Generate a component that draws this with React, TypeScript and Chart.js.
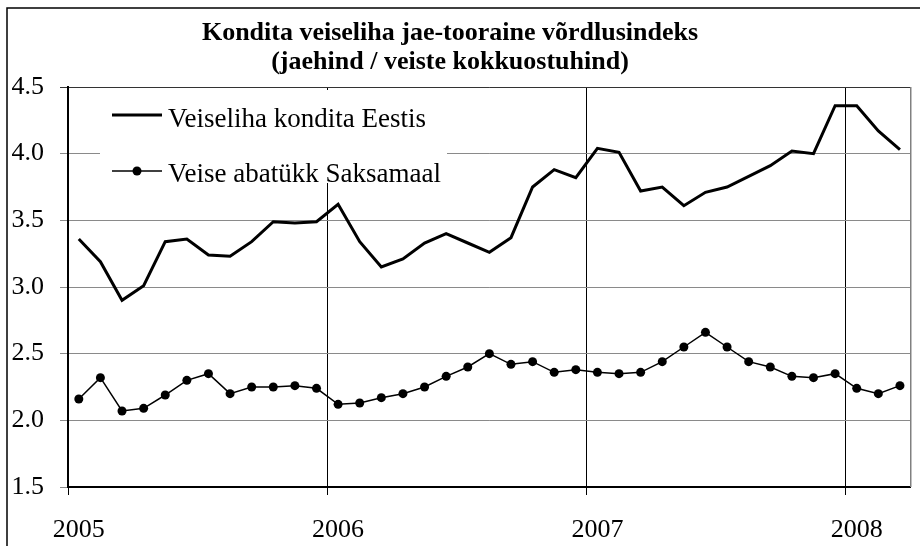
import React, { useEffect, useRef } from "react";
import { Chart, registerables } from "chart.js";

Chart.register(...registerables);

const titleLines = ["Kondita veiseliha jae-tooraine võrdlusindeks", "(jaehind / veiste kokkuostuhind)"];

const years = ["2005", "2006", "2007", "2008"];
const monthsPerYear = 12;
// Monthly categories Jan 2005 .. Mar 2008
const categories = [
  "2005-01", "2005-02", "2005-03", "2005-04", "2005-05", "2005-06", "2005-07", "2005-08", "2005-09", "2005-10", "2005-11", "2005-12",
  "2006-01", "2006-02", "2006-03", "2006-04", "2006-05", "2006-06", "2006-07", "2006-08", "2006-09", "2006-10", "2006-11", "2006-12",
  "2007-01", "2007-02", "2007-03", "2007-04", "2007-05", "2007-06", "2007-07", "2007-08", "2007-09", "2007-10", "2007-11", "2007-12",
  "2008-01", "2008-02", "2008-03",
];

const seriesEestis = [
  3.36, 3.19, 2.90, 3.01, 3.34, 3.36, 3.24, 3.23, 3.34, 3.49, 3.48, 3.49,
  3.62, 3.34, 3.15, 3.21, 3.33, 3.40, 3.33, 3.26, 3.37, 3.75, 3.88, 3.82,
  4.04, 4.01, 3.72, 3.75, 3.61, 3.71, 3.75, 3.83, 3.91, 4.02, 4.00, 4.36,
  4.36, 4.17, 4.03,
];

const seriesSaksamaal = [
  2.16, 2.32, 2.07, 2.09, 2.19, 2.30, 2.35, 2.20, 2.25, 2.25, 2.26, 2.24,
  2.12, 2.13, 2.17, 2.20, 2.25, 2.33, 2.40, 2.50, 2.42, 2.44, 2.36, 2.38,
  2.36, 2.35, 2.36, 2.44, 2.55, 2.66, 2.55, 2.44, 2.40, 2.33, 2.32, 2.35,
  2.24, 2.20, 2.26,
];

const seriesLabels = ["Veiseliha kondita Eestis", "Veise abatükk Saksamaal"];

const yMin = 1.5;
const yMax = 4.5;
const yStep = 0.5;

const SERIF = "'Liberation Serif', 'Times New Roman', serif";

const decorPlugin = {
  id: "decor",
  beforeDraw(chart: any) {
    const ctx = chart.ctx;
    ctx.save();
    ctx.fillStyle = "#ffffff";
    ctx.fillRect(0, 0, chart.width, chart.height);
    ctx.restore();
  },
  beforeDatasetsDraw(chart: any) {
    const { ctx, chartArea } = chart;
    const l = chartArea.left;
    const t = chartArea.top;
    ctx.save();
    // legend background
    ctx.fillStyle = "#ffffff";
    ctx.fillRect(l + 32, t + 3, 347, 93);
    const ds = chart.data.datasets;
    ctx.strokeStyle = "#000000";
    ctx.fillStyle = "#000000";
    ctx.font = `27px ${SERIF}`;
    ctx.textBaseline = "alphabetic";
    ctx.textAlign = "left";
    // row 1
    ctx.lineWidth = 3;
    ctx.beginPath();
    ctx.moveTo(l + 44, t + 28);
    ctx.lineTo(l + 94, t + 28);
    ctx.stroke();
    ctx.fillText(ds[0].label, l + 100, t + 40);
    // row 2
    ctx.lineWidth = 1.5;
    ctx.beginPath();
    ctx.moveTo(l + 44, t + 84);
    ctx.lineTo(l + 94, t + 84);
    ctx.stroke();
    ctx.beginPath();
    ctx.arc(l + 69, t + 84, 4.5, 0, Math.PI * 2);
    ctx.fill();
    ctx.fillText(ds[1].label, l + 100, t + 95);
    ctx.restore();
  },
  afterDraw(chart: any) {
    const { ctx, chartArea } = chart;
    ctx.save();
    // right border of plot area
    ctx.strokeStyle = "#808080";
    ctx.lineWidth = 1.5;
    ctx.beginPath();
    ctx.moveTo(chartArea.right, chartArea.top);
    ctx.lineTo(chartArea.right, chartArea.bottom);
    ctx.stroke();
    // outer frame (top & left)
    ctx.strokeStyle = "#000000";
    ctx.lineWidth = 1.5;
    ctx.beginPath();
    ctx.moveTo(7, chart.height);
    ctx.lineTo(7, 8);
    ctx.lineTo(chart.width, 8);
    ctx.stroke();
    // title
    ctx.fillStyle = "#000000";
    ctx.font = `bold 26px ${SERIF}`;
    ctx.textAlign = "center";
    ctx.textBaseline = "alphabetic";
    ctx.fillText(titleLines[0], 450, 40);
    ctx.fillText(titleLines[1], 450, 69);
    ctx.restore();
  },
};

export default function App() {
  const ref = useRef<HTMLCanvasElement | null>(null);
  useEffect(() => {
    if (!ref.current) return;
    const chart = new Chart(ref.current, {
      type: "line",
      data: {
        labels: categories,
        datasets: [
          {
            label: seriesLabels[0],
            data: seriesEestis,
            borderColor: "#000000",
            borderWidth: 3,
            pointRadius: 0,
            tension: 0,
          },
          {
            label: seriesLabels[1],
            data: seriesSaksamaal,
            borderColor: "#000000",
            backgroundColor: "#000000",
            borderWidth: 1.5,
            pointRadius: 4.5,
            pointBackgroundColor: "#000000",
            pointBorderWidth: 0,
            tension: 0,
          },
        ],
      },
      options: {
        responsive: false,
        animation: false,
        layout: { padding: { top: 87, right: 3, left: 0, bottom: 0 } },
        plugins: {
          legend: { display: false },
          title: { display: false },
          tooltip: { enabled: false },
        },
        scales: {
          x: {
            type: "category",
            offset: true,
            afterFit: (scale: any) => {
              scale.height = 59;
            },
            grid: {
              offset: true,
              drawOnChartArea: true,
              lineWidth: 1,
              tickLength: 8,
              color: (c: any) =>
                typeof c.index === "number" && c.index % monthsPerYear === 0 && c.index > 0 ? "#000000" : "rgba(0,0,0,0)",
              tickColor: (c: any) =>
                typeof c.index === "number" && c.index % monthsPerYear === 0 ? "#000000" : "rgba(0,0,0,0)",
            },
            border: { display: true, color: "#000000", width: 2 },
            ticks: {
              autoSkip: false,
              maxRotation: 0,
              minRotation: 0,
              padding: 20,
              color: "#000000",
              font: { family: SERIF, size: 26 },
              callback: (_v: any, i: number) =>
                i % monthsPerYear === 0 ? years[Math.floor(i / monthsPerYear)] : "",
            },
          },
          y: {
            min: yMin,
            max: yMax,
            afterFit: (scale: any) => {
              scale.width = 68;
            },
            grid: {
              lineWidth: 1,
              tickLength: 8,
              color: (c: any) => (c.tick && c.tick.value === yMax ? "#333333" : "#8a8a8a"),
            },
            border: { display: true, color: "#000000", width: 2 },
            ticks: {
              stepSize: yStep,
              padding: 16,
              color: "#000000",
              font: { family: SERIF, size: 26 },
              callback: (v: any) => Number(v).toFixed(1),
            },
          },
        },
      },
      plugins: [decorPlugin],
    });
    return () => chart.destroy();
  }, []);
  return (
    <div style={{ position: "absolute", left: 0, top: 0, width: 920, height: 546 }}>
      <canvas ref={ref} width={920} height={546} style={{ display: "block" }} />
    </div>
  );
}
